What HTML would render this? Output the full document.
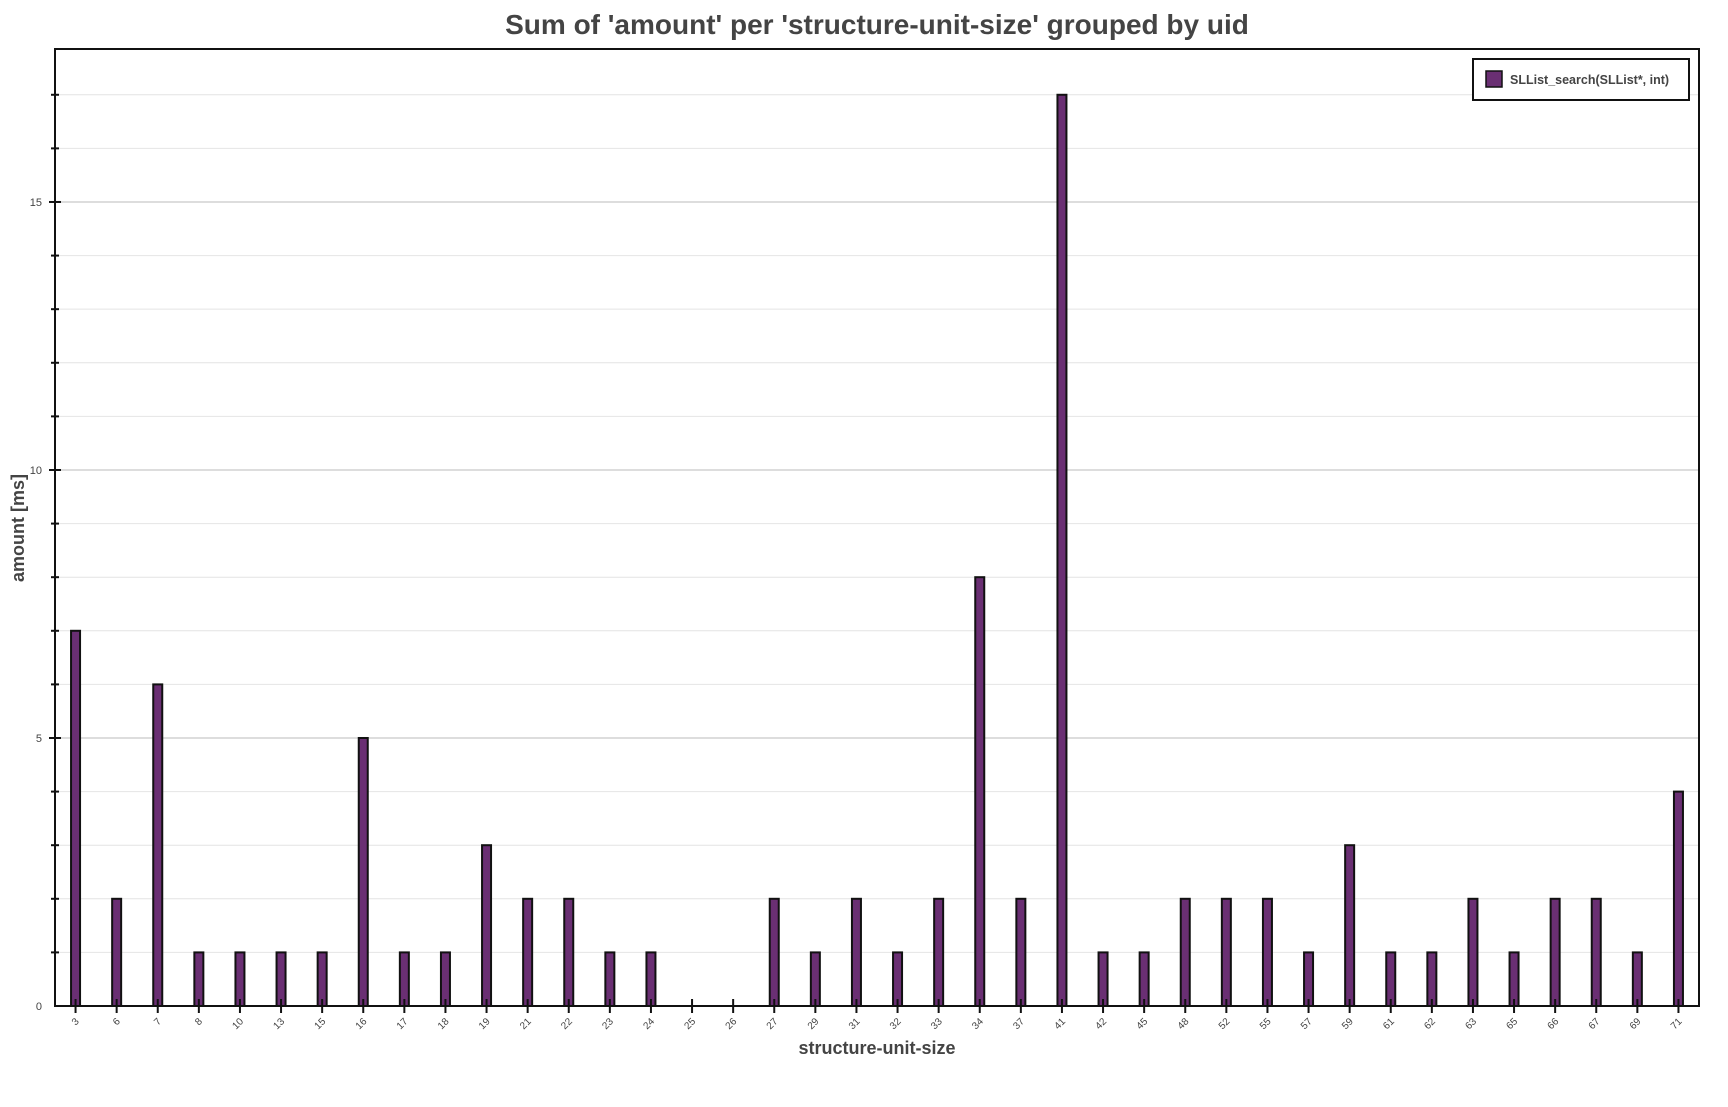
<!DOCTYPE html>
<html><head><meta charset="utf-8"><style>
body{margin:0;background:#fff;}
svg{display:block;font-family:"Liberation Sans",Arial,sans-serif;}
</style></head><body>
<svg id="chart" width="1728" height="1107">
<text x="877" y="34" text-anchor="middle" font-size="28" font-weight="bold" fill="#444">Sum of 'amount' per 'structure-unit-size' grouped by uid</text>
<text x="877" y="1054" text-anchor="middle" font-size="18" font-weight="bold" fill="#444">structure-unit-size</text>
<text transform="translate(24,528) rotate(-90)" text-anchor="middle" font-size="18" font-weight="bold" fill="#444">amount [ms]</text>
<g id="grid"></g><g id="bars"></g><g id="axes"></g>
<rect x="55" y="49" width="1644" height="957" fill="none" stroke="#111" stroke-width="2"/>
<g>
<rect x="1473" y="59" width="216" height="41" fill="#fff" stroke="#111" stroke-width="2"/>
<rect x="1486" y="71" width="16" height="16" fill="#6a2f73" stroke="#111" stroke-width="1.5"/>
<text x="1510" y="84" font-size="12.5" font-weight="bold" fill="#444">SLList_search(SLList*, int)</text>
</g>
</svg>
<script>
const categories=["3","6","7","8","10","13","15","16","17","18","19","21","22","23","24","25","26","27","29","31","32","33","34","37","41","42","45","48","52","55","57","59","61","62","63","65","66","67","69","71"];
const values=[7,2,6,1,1,1,1,5,1,1,3,2,2,1,1,0,0,2,1,2,1,2,8,2,17,1,1,2,2,2,1,3,1,1,2,1,2,2,1,4];
const yTicks=[0,5,10,15];
const NS="http://www.w3.org/2000/svg";
const L=55,R=1699,T=49,B=1006,yMax=17.854;
const bw=(R-L)/categories.length;
const xc=i=>L+bw*(i+0.5);
const y=v=>B-(B-T)*v/yMax;
function mk(tag,attrs,parent){const e=document.createElementNS(NS,tag);for(const k in attrs)e.setAttribute(k,attrs[k]);parent.appendChild(e);return e;}
const grid=document.getElementById('grid'),bars=document.getElementById('bars'),axes=document.getElementById('axes');
for(let v=1;v<yMax;v++){
  const major=v%5===0;
  const g=mk('line',{x1:L,x2:R,y1:y(v),y2:y(v),stroke:major?'#bbb':'#e4e4e4','stroke-width':1},grid);
  
  
  const t=mk('line',{x1:L-(major?6:4),x2:L+(major?6:4),y1:y(v),y2:y(v),stroke:'#111','stroke-width':2},axes);
  
  
}
yTicks.forEach(v=>{
  const t=mk('text',{x:L-13,y:y(v)+4,'text-anchor':'end','font-size':11,fill:'#444'},axes);
  t.textContent=v;
  
  
});
categories.forEach((c,i)=>{
  const x=xc(i);
  if(values[i]>0){
    const r=mk('rect',{x:x-4.5,y:y(values[i]),width:9,height:B-y(values[i]),fill:'#6a2f73',stroke:'#111','stroke-width':2},bars);
    
    
  }
  const tk=mk('line',{x1:x,x2:x,y1:B-7,y2:B+7,stroke:'#111','stroke-width':2},axes);
  
  
  const lb=mk('text',{x:0,y:0,'text-anchor':'end','font-size':10,fill:'#444',transform:`translate(${x+4},${B+16}) rotate(-45)`},axes);
  lb.textContent=c;
  
  
});
</script>
</body></html>
